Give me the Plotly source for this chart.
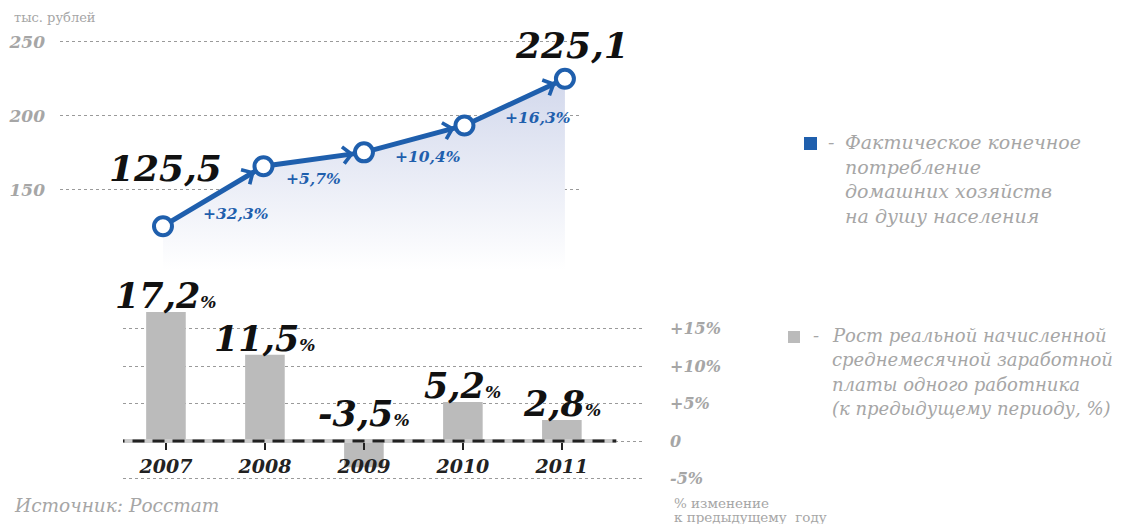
import plotly.graph_objects as go

# ---------------- data ----------------
years = ["2007", "2008", "2009", "2010", "2011"]
consumption = [125.5, 166.0, 175.4, 193.6, 225.1]          # тыс. рублей
consumption_growth = [32.3, 5.7, 10.4, 16.3]                # % к предыдущему году
wage_growth = [17.2, 11.5, -3.5, 5.2, 2.8]                  # %
top_ticks = [150, 200, 250]
bottom_ticks = [-5, 0, 5, 10, 15]
bottom_tick_labels = ["-5%", "0", "+5%", "+10%", "+15%"]
legend_consumption = ["Фактическое конечное", "потребление", "домашних хозяйств", "на душу населения"]
legend_wage = ["Рост реальной начисленной", "среднемесячной заработной",
               "платы одного работника", "(к предыдущему периоду, %)"]

# ---------------- style ----------------
OFF = 8                      # page body margin
W, H = 1129 - OFF, 524 - OFF
BLUE = "#1f5fad"
BAR = "#bbbbbb"
GREY_TXT = "#a6a6a6"
GRID = "#9a9a9a"
SERIF = "DejaVu Serif"


def fx(p):
    return (p - OFF) / W


def fy(p):
    return 1 - (p - OFF) / H


def fmt(v):
    return f"{v:.1f}".replace(".", ",")


xs = list(range(len(years)))

fig = go.Figure()

# consumption line with gradient area
fig.add_trace(go.Scatter(
    x=xs, y=consumption, mode="lines+markers",
    line=dict(color=BLUE, width=5),
    marker=dict(size=18, color="white", line=dict(color=BLUE, width=4)),
    fill="tozeroy",
    fillgradient=dict(type="vertical", start=96, stop=max(consumption),
                      colorscale=[[0, "rgba(255,255,255,1)"], [1, "rgba(210,216,236,1)"]]),
    cliponaxis=False, hoverinfo="skip", showlegend=False,
    xaxis="x", yaxis="y",
))

# wage growth bars
fig.add_trace(go.Bar(
    x=xs, y=wage_growth, width=0.4, marker=dict(color=BAR, line=dict(width=0)),
    hoverinfo="skip", showlegend=False, xaxis="x2", yaxis="y2",
))

annotations = []

# arrow chevrons on the line
for i in range(1, len(xs)):
    annotations.append(dict(
        x=xs[i], y=consumption[i], ax=xs[i - 1], ay=consumption[i - 1],
        xref="x", yref="y", axref="x", ayref="y", text="",
        showarrow=True, arrowhead=4, arrowsize=1.3, arrowwidth=2.5, arrowcolor=BLUE,
        standoff=10, startstandoff=11,
    ))

# growth labels for line segments
seg_shift = [(23, -17), (0, -19), (14, -18), (23, -15)]
for i, g in enumerate(consumption_growth):
    annotations.append(dict(
        x=(xs[i] + xs[i + 1]) / 2, y=(consumption[i] + consumption[i + 1]) / 2,
        xref="x", yref="y", text="+" + fmt(g) + "%", showarrow=False,
        xshift=seg_shift[i][0], yshift=seg_shift[i][1],
        font=dict(family=SERIF, size=15.5, color=BLUE, weight="bold", style="italic"),
    ))

# big value labels first / last
BIG = dict(family=SERIF, size=36, color="#111", weight="bold", style="italic")
annotations.append(dict(
    x=xs[0], y=consumption[0], xref="x", yref="y", text=fmt(consumption[0]),
    showarrow=False, xshift=3, yshift=58, font=BIG,
))
annotations.append(dict(
    x=xs[-1], y=consumption[-1], xref="x", yref="y", text=fmt(consumption[-1]),
    showarrow=False, xshift=7, yshift=34, font=BIG,
))

# bar labels
for i, v in enumerate(wage_growth):
    annotations.append(dict(
        x=xs[i], y=max(v, 0), xref="x2", yref="y2", yanchor="bottom",
        text=fmt(v) + "<span style='font-size:17px'>%</span>",
        showarrow=False, yshift=-6 if v > 0 else 5,
        font=dict(family=SERIF, size=35, color="#111", weight="bold", style="italic"),
    ))


def txt(x, y, text, font):
    return dict(x=fx(x), y=fy(y), xref="paper", yref="paper", xanchor="left", yanchor="middle",
                text=text, showarrow=False, font=font)


annotations.append(txt(12, 17, "тыс. рублей", dict(family=SERIF, size=13, color=GREY_TXT)))
annotations.append(txt(12, 505, "Источник: Росстат",
                       dict(family=SERIF, size=18.5, color=GREY_TXT, style="italic")))
annotations.append(txt(672, 503, "% изменение", dict(family=SERIF, size=13.5, color=GREY_TXT)))
annotations.append(txt(672, 517, "к предыдущему  году", dict(family=SERIF, size=13.5, color=GREY_TXT)))

# legends
LEG_FONT = dict(family=SERIF, size=19, color=GREY_TXT, style="italic")
for k, line in enumerate(legend_consumption):
    annotations.append(txt(843, 142 + 24.5 * k, line, LEG_FONT))
annotations.append(txt(826, 142, "-", LEG_FONT))
LEG_FONT2 = dict(family=SERIF, size=18, color=GREY_TXT, style="italic")
for k, line in enumerate(legend_wage):
    annotations.append(txt(830, 335 + 24.5 * k, line, LEG_FONT2))
annotations.append(txt(811, 335, "-", LEG_FONT2))

shapes = [
    dict(type="rect", xref="paper", yref="paper", x0=fx(804), x1=fx(817), y0=fy(150), y1=fy(137),
         fillcolor=BLUE, line=dict(width=0)),
    dict(type="rect", xref="paper", yref="paper", x0=fx(788), x1=fx(800), y0=fy(343), y1=fy(331),
         fillcolor=BAR, line=dict(width=0)),
    dict(type="line", xref="x2", yref="y2", x0=-0.54, x1=4.55, y0=0, y1=0,
         line=dict(color="#cccccc", width=4)),
    dict(type="line", xref="x2", yref="y2", x0=-0.54, x1=4.55, y0=0, y1=0,
         line=dict(color="#222222", width=3, dash="12px,8px")),
]

fig.update_layout(
    width=W, height=H,
    margin=dict(l=0, r=0, t=0, b=0),
    paper_bgcolor="white", plot_bgcolor="rgba(0,0,0,0)",
    showlegend=False,
    annotations=annotations,
    shapes=shapes,
    xaxis=dict(domain=[fx(60), fx(582)], range=[-1.025, 4.17], visible=False, fixedrange=True),
    yaxis=dict(domain=[fy(270), fy(30)], range=[95.9, 258.1], tickvals=top_ticks,
               showgrid=True, gridcolor=GRID, griddash="dot", gridwidth=1,
               zeroline=False, showline=False, ticks="", ticklabelstandoff=14,
               tickfont=dict(family=SERIF, size=17, color=GREY_TXT, weight="bold", style="italic")),
    xaxis2=dict(domain=[fx(123), fx(645)], range=[-0.434, 4.84], anchor="free", position=fy(441),
                tickvals=xs, ticktext=years, showgrid=False, zeroline=False, showline=False,
                ticks="outside", ticklen=8, tickwidth=2, tickcolor="#222",
                tickfont=dict(family=SERIF, size=19, color="#222", weight="bold", style="italic")),
    yaxis2=dict(domain=[fy(490), fy(300)], range=[-6.53, 18.8], anchor="x2", side="right",
                tickvals=bottom_ticks, ticktext=bottom_tick_labels,
                showgrid=True, gridcolor=GRID, griddash="dot", gridwidth=1,
                zeroline=False, showline=False, ticks="", ticklabelstandoff=24,
                tickfont=dict(family=SERIF, size=16, color=GREY_TXT, weight="bold", style="italic")),
)

fig.write_html("out.html")
